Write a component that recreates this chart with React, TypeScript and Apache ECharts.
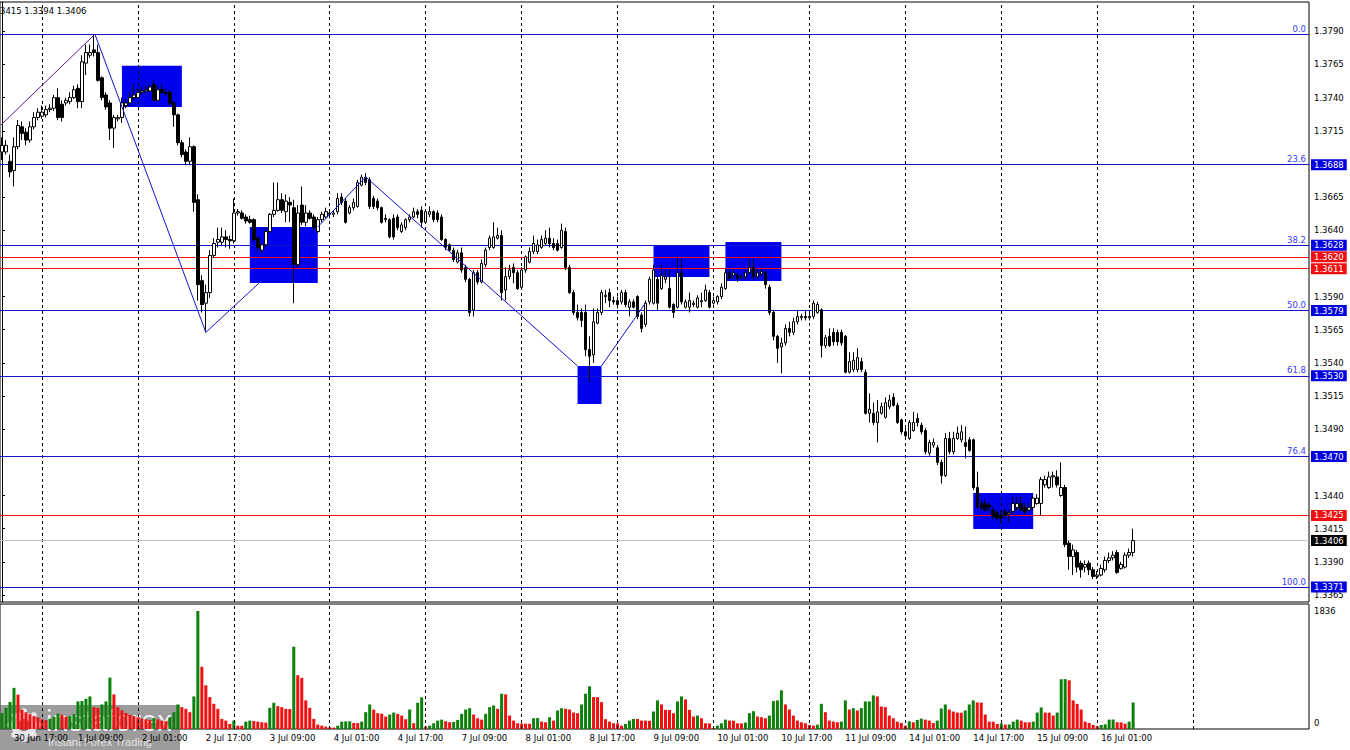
import React, { useEffect, useRef } from 'react';
import * as echarts from 'echarts';

// H1 candles [open, close, low, high], bar 0 = 30 Jun 14:00, bar 283 = 16 Jul 09:00
const candles: number[][] = [
  [1.3699,1.3704,1.3693,1.3710],[1.3699,1.3704,1.3697,1.3708],[1.3692,1.3684,1.3680,1.3697],[1.3685,1.3703,1.3673,1.3710],[1.3703,1.3719,1.3701,1.3723],
  [1.3718,1.3713,1.3708,1.3722],[1.3714,1.3708,1.3704,1.3717],[1.3708,1.3718,1.3706,1.3722],[1.3718,1.3725,1.3716,1.3729],[1.3725,1.3729,1.3723,1.3732],
  [1.3726,1.3729,1.3724,1.3734],[1.3727,1.3731,1.3725,1.3734],[1.3731,1.3732,1.3729,1.3735],[1.3732,1.3740,1.3730,1.3742],[1.3740,1.3725,1.3723,1.3747],
  [1.3735,1.3725,1.3722,1.3738],[1.3736,1.3738,1.3734,1.3740],[1.3737,1.3740,1.3735,1.3744],[1.3740,1.3746,1.3739,1.3749],[1.3747,1.3737,1.3732,1.3750],
  [1.3737,1.3767,1.3732,1.3772],[1.3766,1.3774,1.3757,1.3780],[1.3772,1.3774,1.3770,1.3780],[1.3776,1.3774,1.3771,1.3788],[1.3774,1.3753,1.3752,1.3780],
  [1.3755,1.3740,1.3738,1.3756],[1.3742,1.3733,1.3731,1.3744],[1.3736,1.3717,1.3708,1.3738],[1.3717,1.3725,1.3702,1.3727],[1.3724,1.3725,1.3722,1.3727],
  [1.3725,1.3736,1.3721,1.3740],[1.3734,1.3736,1.3732,1.3739],[1.3736,1.3740,1.3734,1.3744],[1.3740,1.3742,1.3738,1.3750],[1.3740,1.3744,1.3739,1.3747],
  [1.3744,1.3745,1.3742,1.3748],[1.3745,1.3746,1.3743,1.3749],[1.3745,1.3748,1.3744,1.3750],[1.3750,1.3738,1.3737,1.3753],[1.3738,1.3746,1.3737,1.3749],
  [1.3746,1.3744,1.3743,1.3750],[1.3744,1.3743,1.3741,1.3747],[1.3744,1.3736,1.3734,1.3746],[1.3736,1.3727,1.3718,1.3737],[1.3727,1.3706,1.3704,1.3728],
  [1.3706,1.3697,1.3695,1.3708],[1.3699,1.3692,1.3689,1.3701],[1.3692,1.3703,1.3689,1.3710],[1.3703,1.3661,1.3654,1.3704],[1.3663,1.3599,1.3587,1.3667],
  [1.3602,1.3584,1.3578,1.3606],[1.3585,1.3593,1.3563,1.3599],[1.3593,1.3621,1.3589,1.3625],[1.3621,1.3630,1.3619,1.3634],[1.3631,1.3633,1.3627,1.3642],
  [1.3631,1.3635,1.3629,1.3642],[1.3635,1.3633,1.3627,1.3640],[1.3633,1.3632,1.3626,1.3636],[1.3632,1.3653,1.3630,1.3664],[1.3653,1.3654,1.3651,1.3656],
  [1.3653,1.3649,1.3648,1.3655],[1.3650,1.3647,1.3645,1.3652],[1.3648,1.3646,1.3645,1.3651],[1.3648,1.3633,1.3631,1.3649],[1.3634,1.3627,1.3624,1.3636],
  [1.3625,1.3629,1.3623,1.3630],[1.3629,1.3639,1.3627,1.3642],[1.3639,1.3652,1.3638,1.3653],[1.3652,1.3655,1.3650,1.3676],[1.3655,1.3663,1.3654,1.3676],
  [1.3663,1.3655,1.3653,1.3668],[1.3654,1.3662,1.3646,1.3667],[1.3661,1.3659,1.3646,1.3665],[1.3657,1.3614,1.3585,1.3663],[1.3614,1.3653,1.3612,1.3659],
  [1.3659,1.3646,1.3644,1.3673],[1.3646,1.3653,1.3643,1.3659],[1.3653,1.3649,1.3648,1.3655],[1.3650,1.3642,1.3640,1.3652],[1.3639,1.3648,1.3638,1.3650],
  [1.3648,1.3652,1.3646,1.3654],[1.3650,1.3654,1.3649,1.3657],[1.3653,1.3652,1.3649,1.3655],[1.3652,1.3653,1.3650,1.3655],[1.3654,1.3664,1.3652,1.3668],
  [1.3665,1.3661,1.3659,1.3668],[1.3662,1.3646,1.3645,1.3664],[1.3653,1.3657,1.3652,1.3659],[1.3657,1.3661,1.3655,1.3664],[1.3658,1.3676,1.3657,1.3678],
  [1.3674,1.3680,1.3673,1.3682],[1.3680,1.3676,1.3674,1.3683],[1.3678,1.3658,1.3656,1.3680],[1.3664,1.3658,1.3656,1.3666],[1.3662,1.3657,1.3655,1.3664],
  [1.3657,1.3646,1.3645,1.3658],[1.3648,1.3649,1.3646,1.3652],[1.3648,1.3635,1.3634,1.3649],[1.3649,1.3635,1.3633,1.3652],[1.3650,1.3642,1.3640,1.3652],
  [1.3639,1.3644,1.3638,1.3646],[1.3642,1.3648,1.3640,1.3649],[1.3648,1.3650,1.3646,1.3652],[1.3650,1.3654,1.3649,1.3657],[1.3654,1.3652,1.3649,1.3656],
  [1.3655,1.3646,1.3642,1.3658],[1.3646,1.3654,1.3645,1.3655],[1.3652,1.3654,1.3650,1.3658],[1.3654,1.3648,1.3646,1.3655],[1.3653,1.3648,1.3646,1.3655],
  [1.3650,1.3633,1.3632,1.3652],[1.3633,1.3627,1.3625,1.3634],[1.3629,1.3625,1.3624,1.3630],[1.3625,1.3618,1.3616,1.3627],[1.3616,1.3623,1.3615,1.3625],
  [1.3623,1.3610,1.3608,1.3627],[1.3612,1.3603,1.3601,1.3614],[1.3603,1.3578,1.3575,1.3604],[1.3580,1.3608,1.3575,1.3610],[1.3608,1.3601,1.3599,1.3610],
  [1.3601,1.3615,1.3600,1.3618],[1.3614,1.3625,1.3612,1.3627],[1.3627,1.3634,1.3625,1.3636],[1.3627,1.3635,1.3626,1.3646],[1.3634,1.3636,1.3633,1.3642],
  [1.3636,1.3593,1.3587,1.3640],[1.3595,1.3605,1.3587,1.3612],[1.3605,1.3610,1.3603,1.3614],[1.3612,1.3608,1.3600,1.3615],[1.3608,1.3596,1.3595,1.3610],
  [1.3597,1.3610,1.3596,1.3612],[1.3610,1.3620,1.3608,1.3621],[1.3616,1.3624,1.3615,1.3627],[1.3624,1.3630,1.3622,1.3636],[1.3624,1.3629,1.3622,1.3633],
  [1.3627,1.3633,1.3626,1.3636],[1.3630,1.3634,1.3629,1.3640],[1.3634,1.3630,1.3627,1.3642],[1.3630,1.3627,1.3625,1.3634],[1.3630,1.3625,1.3624,1.3633],
  [1.3627,1.3640,1.3626,1.3645],[1.3639,1.3612,1.3610,1.3642],[1.3612,1.3593,1.3592,1.3614],[1.3593,1.3578,1.3576,1.3595],[1.3578,1.3574,1.3572,1.3584],
  [1.3578,1.3572,1.3567,1.3581],[1.3578,1.3550,1.3545,1.3584],[1.3550,1.3545,1.3526,1.3560],[1.3546,1.3571,1.3540,1.3581],[1.3570,1.3578,1.3569,1.3581],
  [1.3578,1.3593,1.3576,1.3595],[1.3590,1.3591,1.3585,1.3595],[1.3593,1.3587,1.3582,1.3596],[1.3587,1.3586,1.3584,1.3590],[1.3587,1.3584,1.3581,1.3590],
  [1.3586,1.3593,1.3584,1.3595],[1.3593,1.3584,1.3582,1.3595],[1.3582,1.3586,1.3575,1.3588],[1.3586,1.3582,1.3581,1.3588],[1.3590,1.3575,1.3573,1.3591],
  [1.3576,1.3566,1.3563,1.3578],[1.3569,1.3585,1.3567,1.3587],[1.3586,1.3603,1.3584,1.3605],[1.3585,1.3610,1.3584,1.3614],[1.3603,1.3585,1.3580,1.3605],
  [1.3596,1.3606,1.3595,1.3614],[1.3603,1.3605,1.3600,1.3610],[1.3596,1.3582,1.3581,1.3610],[1.3584,1.3578,1.3574,1.3585],[1.3582,1.3608,1.3581,1.3620],
  [1.3608,1.3586,1.3584,1.3618],[1.3582,1.3586,1.3581,1.3588],[1.3582,1.3587,1.3578,1.3593],[1.3584,1.3585,1.3582,1.3587],[1.3582,1.3589,1.3581,1.3591],
  [1.3586,1.3587,1.3582,1.3593],[1.3587,1.3595,1.3586,1.3599],[1.3593,1.3582,1.3581,1.3595],[1.3585,1.3587,1.3584,1.3590],[1.3586,1.3590,1.3584,1.3591],
  [1.3590,1.3597,1.3588,1.3600],[1.3596,1.3608,1.3595,1.3611],[1.3608,1.3604,1.3603,1.3611],[1.3606,1.3608,1.3604,1.3610],[1.3606,1.3604,1.3601,1.3608],
  [1.3604,1.3605,1.3603,1.3607],[1.3605,1.3608,1.3603,1.3610],[1.3608,1.3612,1.3607,1.3618],[1.3612,1.3605,1.3603,1.3618],[1.3605,1.3608,1.3603,1.3611],
  [1.3607,1.3609,1.3605,1.3611],[1.3608,1.3599,1.3596,1.3610],[1.3597,1.3578,1.3576,1.3599],[1.3578,1.3560,1.3557,1.3580],[1.3560,1.3551,1.3540,1.3561],
  [1.3552,1.3555,1.3532,1.3559],[1.3555,1.3566,1.3553,1.3569],[1.3566,1.3563,1.3560,1.3571],[1.3563,1.3571,1.3561,1.3574],[1.3571,1.3575,1.3569,1.3580],
  [1.3574,1.3575,1.3572,1.3577],[1.3575,1.3574,1.3572,1.3580],[1.3574,1.3575,1.3572,1.3577],[1.3575,1.3585,1.3573,1.3587],[1.3578,1.3584,1.3577,1.3586],
  [1.3580,1.3553,1.3544,1.3581],[1.3553,1.3559,1.3551,1.3561],[1.3560,1.3553,1.3552,1.3566],[1.3563,1.3556,1.3553,1.3566],[1.3563,1.3556,1.3553,1.3565],
  [1.3563,1.3555,1.3553,1.3565],[1.3560,1.3533,1.3532,1.3561],[1.3533,1.3541,1.3532,1.3548],[1.3535,1.3542,1.3533,1.3548],[1.3535,1.3544,1.3533,1.3551],
  [1.3541,1.3535,1.3533,1.3544],[1.3533,1.3502,1.3501,1.3535],[1.3502,1.3505,1.3495,1.3517],[1.3502,1.3495,1.3493,1.3510],[1.3495,1.3503,1.3480,1.3512],
  [1.3502,1.3507,1.3501,1.3510],[1.3499,1.3510,1.3498,1.3514],[1.3507,1.3512,1.3505,1.3516],[1.3514,1.3508,1.3507,1.3517],[1.3508,1.3495,1.3494,1.3510],
  [1.3497,1.3488,1.3486,1.3498],[1.3488,1.3485,1.3483,1.3493],[1.3483,1.3495,1.3482,1.3497],[1.3489,1.3495,1.3488,1.3503],[1.3498,1.3495,1.3492,1.3502],
  [1.3493,1.3488,1.3486,1.3495],[1.3489,1.3473,1.3471,1.3491],[1.3472,1.3480,1.3470,1.3482],[1.3478,1.3480,1.3476,1.3483],[1.3476,1.3465,1.3463,1.3478],
  [1.3465,1.3455,1.3449,1.3467],[1.3455,1.3483,1.3454,1.3487],[1.3483,1.3473,1.3471,1.3488],[1.3473,1.3483,1.3471,1.3488],[1.3483,1.3487,1.3482,1.3492],
  [1.3482,1.3488,1.3480,1.3493],[1.3480,1.3477,1.3468,1.3492],[1.3482,1.3474,1.3473,1.3484],[1.3482,1.3446,1.3444,1.3483],[1.3446,1.3431,1.3430,1.3458],
  [1.3434,1.3431,1.3429,1.3437],[1.3434,1.3429,1.3428,1.3437],[1.3433,1.3431,1.3428,1.3435],[1.3429,1.3424,1.3422,1.3431],[1.3427,1.3423,1.3421,1.3429],
  [1.3425,1.3423,1.3420,1.3428],[1.3428,1.3425,1.3423,1.3430],[1.3426,1.3427,1.3420,1.3429],[1.3428,1.3434,1.3426,1.3439],[1.3431,1.3434,1.3429,1.3439],
  [1.3434,1.3429,1.3428,1.3439],[1.3431,1.3428,1.3426,1.3434],[1.3429,1.3431,1.3428,1.3434],[1.3431,1.3438,1.3429,1.3440],[1.3434,1.3438,1.3433,1.3441],
  [1.3434,1.3452,1.3425,1.3454],[1.3448,1.3452,1.3446,1.3455],[1.3446,1.3454,1.3445,1.3458],[1.3454,1.3455,1.3446,1.3458],[1.3454,1.3448,1.3446,1.3459],
  [1.3440,1.3446,1.3439,1.3465],[1.3446,1.3403,1.3401,1.3448],[1.3404,1.3394,1.3384,1.3406],[1.3394,1.3399,1.3380,1.3403],[1.3397,1.3386,1.3382,1.3399],
  [1.3389,1.3384,1.3378,1.3391],[1.3386,1.3388,1.3382,1.3391],[1.3389,1.3384,1.3380,1.3391],[1.3384,1.3379,1.3377,1.3386],[1.3379,1.3380,1.3377,1.3383],
  [1.3380,1.3385,1.3379,1.3388],[1.3384,1.3391,1.3382,1.3394],[1.3391,1.3393,1.3389,1.3397],[1.3393,1.3395,1.3391,1.3398],[1.3397,1.3382,1.3381,1.3399],
  [1.3385,1.3388,1.3384,1.3390],[1.3386,1.3395,1.3385,1.3397],[1.3395,1.3397,1.3393,1.3400],[1.3397,1.3406,1.3394,1.3415],
];

// tick volumes, one per candle
const volumes: number[] = [
  250,330,420,640,535,300,260,230,200,180,
  150,140,160,190,240,220,190,200,230,429,
  435,471,507,340,330,382,429,800,539,340,
  290,250,220,200,180,160,150,140,170,150,
  130,120,180,262,382,340,314,262,507,1836,
  968,680,497,392,314,157,131,78,131,52,
  50,115,131,125,115,105,100,330,408,356,
  340,314,310,1281,837,795,445,330,157,68,
  52,37,26,22,52,115,118,120,94,92,
  115,262,382,303,246,238,194,225,256,235,
  209,152,303,89,408,492,37,52,89,131,
  146,120,105,110,141,235,303,324,225,167,
  146,235,340,366,314,549,539,209,131,89,
  85,84,82,167,170,115,105,183,131,288,
  324,314,303,256,246,382,549,664,497,495,
  418,152,115,89,87,52,78,131,157,155,
  131,130,128,272,445,382,298,296,246,429,
  507,460,298,194,209,167,89,87,10,52,
  89,146,131,129,89,87,99,246,277,194,
  183,167,209,434,445,601,382,303,209,131,
  105,89,63,52,68,392,262,131,115,105,
  115,445,303,324,288,324,429,430,523,507,
  350,340,209,167,115,94,52,120,105,141,
  162,146,131,94,131,319,382,303,272,256,
  254,288,382,445,413,410,225,115,113,78,
  89,68,70,115,146,131,105,104,115,256,
  335,256,254,209,256,774,776,758,445,392,
  303,115,94,63,42,63,73,146,148,105,
  103,84,115,413,
];

const dateLabels = ['30 Jun 17:00','1 Jul 09:00','2 Jul 01:00','2 Jul 17:00','3 Jul 09:00','4 Jul 01:00','4 Jul 17:00','7 Jul 09:00','8 Jul 01:00','8 Jul 17:00','9 Jul 09:00','10 Jul 01:00','10 Jul 17:00','11 Jul 09:00','14 Jul 01:00','14 Jul 17:00','15 Jul 09:00','16 Jul 01:00'];
const dateLabelBars = [3,19,35,51,67,83,99,115,131,147,163,179,195,211,227,243,259,275];
const dayStartBars = [10,34,58,82,106,130,154,178,202,226,250,274,298];
const priceTicks = [1.379,1.3765,1.374,1.3715,1.3665,1.364,1.359,1.3565,1.354,1.3515,1.349,1.344,1.3415,1.339,1.3365];
const volumeTicks = [0, 1836];

const fibPercents = ['0.0','23.6','38.2','50.0','61.8','76.4','100.0'];
const fibPrices = [1.37878,1.36894,1.36286,1.35794,1.35302,1.34694,1.3371];
const fibTags = ['','1.3688','1.3628','1.3579','1.3530','1.3470','1.3371'];
const redLevels = [1.362, 1.3611, 1.3425];
const redTags = ['1.3620','1.3611','1.3425'];
const lastPrice = 1.3406;
const lastTag = '1.3406';

// rectangles: [fromBar, toBar, topPrice, bottomPrice]
const boxes = [
  [30,45,1.3764,1.3733],
  [62,79,1.36425,1.36002],
  [144,150,1.35377,1.3509],
  [163,177,1.36285,1.36048],
  [181,195,1.36312,1.36018],
  [243,258,1.34419,1.34148],
];
// zigzag / trend segments: [bar, price] vertices
const trendPurple = [[-0.25,1.37194],[23.25,1.37878]];
const zigzagSegs = [
  [[23.25,1.37878],[51,1.3563],[64.25,1.36]],
  [[79,1.36425],[91,1.36802],[144,1.35377]],
  [[150,1.35377],[161,1.35852]],
];
const ohlcText = '3415 1.3394 1.3406';

const FONT = 'DejaVu Sans';
const BLUE = '#0000e0';
const RED = '#f01010';
const GREEN = '#0b800b';

export default function App() {
  const ref = useRef<HTMLDivElement>(null);
  useEffect(() => {
    if (!ref.current) return;
    const chart = echarts.init(ref.current, null, { renderer: 'svg', width: 1350, height: 750 });
    const tagLabel = (text: string, bg: string) => ({
      show: true, position: 'end', formatter: text, backgroundColor: bg, color: '#fff',
      padding: [1, 3, 0, 3], distance: 2, fontSize: 8.5, fontFamily: FONT, lineHeight: 10,
    });
    const lineMarks: any[] = [];
    dayStartBars.forEach(b => lineMarks.push({ xAxis: b, lineStyle: { type: [3, 3], color: '#000', width: 1 }, label: { show: false } }));
    fibPrices.forEach((p, k) => {
      lineMarks.push({ yAxis: p, lineStyle: { color: '#1414c8', width: 1, type: 'solid' }, label: fibTags[k] ? tagLabel(fibTags[k], BLUE) : { show: false } });
      lineMarks.push({ yAxis: p, lineStyle: { color: 'rgba(0,0,0,0)', width: 1, type: 'solid' },
        label: { show: true, position: 'insideEndTop', formatter: fibPercents[k], color: '#3a3aff', fontSize: 8.5, fontFamily: FONT, distance: [3, 1] } });
    });
    redLevels.forEach((p, k) => lineMarks.push({ yAxis: p, lineStyle: { color: RED, width: 1, type: 'solid' }, label: tagLabel(redTags[k], RED) }));
    lineMarks.push({ yAxis: lastPrice, lineStyle: { color: '#c0c0c0', width: 1, type: 'solid' }, label: tagLabel(lastTag, '#000') });

    const volData = volumes.map((v, i) => ({
      value: [i, v],
      itemStyle: { color: i === 0 || v > volumes[i - 1] ? GREEN : RED },
    }));

    const lineSeries = (pts: number[][], color: string) => ({
      type: 'line', xAxisIndex: 0, yAxisIndex: 0, data: pts, symbol: 'none', silent: true,
      lineStyle: { color, width: 1 }, z: 4,
    });

    const option: any = {
      animation: false,
      textStyle: { fontFamily: FONT },
      grid: [
        { left: -1, top: 2, width: 1310, height: 600, show: true, borderColor: '#000', borderWidth: 1, backgroundColor: 'transparent' },
        { left: -1, top: 604, width: 1310, height: 125, show: true, borderColor: '#000', borderWidth: 1, backgroundColor: 'transparent' },
      ],
      xAxis: [
        { gridIndex: 0, type: 'value', min: -0.5, max: 327, axisLine: { show: false }, axisTick: { show: false }, axisLabel: { show: false }, splitLine: { show: false } },
        { gridIndex: 1, type: 'value', min: -0.5, max: 327, axisLine: { show: false }, axisTick: { show: false }, splitLine: { show: false },
          axisLabel: { customValues: dateLabelBars, formatter: (v: number) => dateLabels[dateLabelBars.indexOf(v)] ?? '', align: 'left', color: '#000', fontSize: 8.5, fontFamily: FONT, margin: 4 } },
      ],
      yAxis: [
        { gridIndex: 0, type: 'value', position: 'right', min: 1.33597, max: 1.38121, splitLine: { show: false },
          axisLine: { show: true, lineStyle: { color: '#000' } },
          axisTick: { show: true, customValues: priceTicks, length: 3, lineStyle: { color: '#000' } },
          axisLabel: { customValues: priceTicks, formatter: (v: number) => v.toFixed(4), color: '#000', fontSize: 8.5, fontFamily: FONT, margin: 5 } },
        { gridIndex: 1, type: 'value', position: 'right', min: 0, max: 1945, splitLine: { show: false },
          axisLine: { show: false }, axisTick: { show: false },
          axisLabel: { customValues: volumeTicks, formatter: (v: number) => (v === 0 ? '{z|0}' : String(v)), color: '#000', fontSize: 8.5, fontFamily: FONT, margin: 5,
            rich: { z: { padding: [0, 0, 12, 0], fontSize: 8.5, fontFamily: FONT, color: '#000' } } } },
      ],
      series: [
        {
          type: 'candlestick', xAxisIndex: 0, yAxisIndex: 0, barWidth: 3, z: 3,
          data: candles.map((c, i) => [i, c[0], c[1], c[2], c[3]]),
          itemStyle: { color: '#ffffff', color0: '#000000', borderColor: '#000', borderColor0: '#000', borderWidth: 1 },
          markArea: { silent: true, z: 1, itemStyle: { color: '#0000ee', opacity: 1 },
            data: boxes.map(b => [{ coord: [b[0], b[2]] }, { coord: [b[1], b[3]] }]) },
          markLine: { silent: true, precision: 6, symbol: ['none', 'none'], z: 2, data: lineMarks },
        },
        lineSeries(trendPurple, '#5a1a9a'),
        ...zigzagSegs.map(s => lineSeries(s, '#1414c8')),
        {
          type: 'bar', xAxisIndex: 1, yAxisIndex: 1, barWidth: 3, data: volData, z: 3,
          markLine: { silent: true, precision: 6, symbol: ['none', 'none'], label: { show: false },
            data: dayStartBars.map(b => ({ xAxis: b, lineStyle: { type: [3, 3], color: '#000', width: 1 } })) },
        },
      ],
      graphic: [
        { type: 'text', left: 0, top: 6, style: { text: ohlcText, fill: '#000', fontSize: 8.5, fontFamily: FONT } },
        {
          type: 'group', left: 0, top: 705, children: [
            { type: 'rect', shape: { x: 0, y: 0, width: 180, height: 45 }, style: { fill: 'rgba(95,95,95,0.62)' } },
            { type: 'ring', shape: { cx: 24, cy: 20, r: 13, r0: 6 }, style: { fill: 'rgba(255,255,255,0.75)' } },
            { type: 'circle', shape: { cx: 24, cy: 20, r: 6 }, style: { fill: 'rgba(200,70,70,0.7)' } },
            ...[0, 1, 2, 3, 4, 5, 6, 7].map(k => ({ type: 'circle', shape: { cx: 24 + 14 * Math.cos(k * Math.PI / 4), cy: 20 + 14 * Math.sin(k * Math.PI / 4), r: 3 }, style: { fill: 'rgba(255,255,255,0.75)' } })),
            { type: 'text', x: 46, y: 1, style: { text: 'instaforex', fill: 'rgba(255,255,255,0.88)', fontSize: 29, fontFamily: 'Liberation Sans' } },
            { type: 'text', x: 48, y: 31, style: { text: 'Instant Forex Trading', fill: 'rgba(255,255,255,0.75)', fontSize: 11, fontFamily: 'Liberation Sans' } },
          ],
        },
      ],
    };
    chart.setOption(option);
    return () => chart.dispose();
  }, []);
  return <div ref={ref} style={{ position: 'fixed', left: 0, top: 0, width: 1350, height: 750, background: '#fff' }} />;
}
